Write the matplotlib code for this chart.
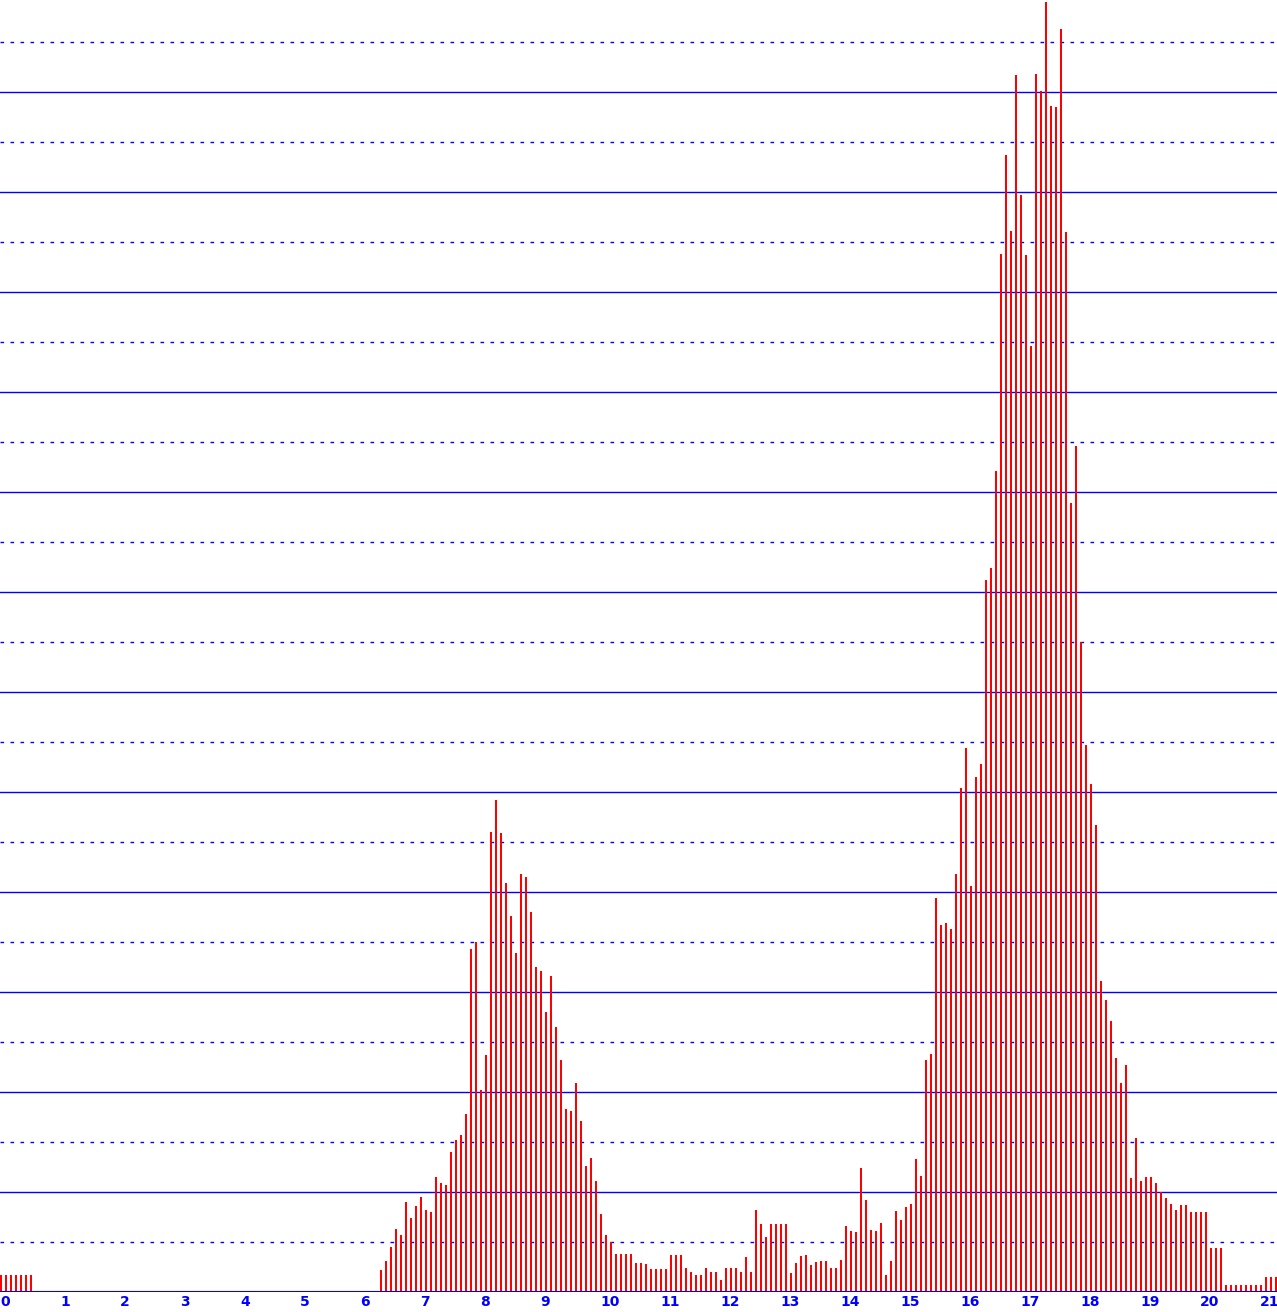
import matplotlib
matplotlib.use("Agg")
import matplotlib.pyplot as plt
import numpy as np

# one bar every 1/12 of a unit, heights
step = 1 / 12
counts_start = [17, 17, 17, 17, 17, 17, 17]
counts_gap = [0] * 69
counts_first_peak = [
    22, 31, 45, 63, 57, 90, 74, 86, 95, 82, 80, 115, 109, 107, 140, 152,
    157, 178, 343, 350, 202, 237, 460, 492, 459, 409, 376, 339, 418, 415,
    380, 325, 321, 280, 316, 265, 232, 183, 181, 209, 171, 126, 134, 111,
    78, 57, 50, 38,
]
counts_valley = [
    38, 38, 38, 29, 29, 28, 23, 23, 23, 23, 37, 37, 37, 24, 20, 17, 17,
    24, 20, 20, 12, 24, 24, 24, 20, 35, 20, 82, 68, 55, 68, 68, 68, 68,
    19, 29, 36, 37, 27, 30, 31, 31, 24, 24, 32, 66, 61, 60, 124, 92, 62,
    61, 69, 17, 31, 81, 72, 85, 88, 133, 116,
]
counts_second_peak = [
    232, 238, 394, 367, 369, 363, 418, 504, 544, 406, 515, 528, 712, 724,
    821, 1038, 1137, 1061, 1217, 1097, 1037, 946, 1218, 1201, 1290, 1186,
    1185, 1263, 1060, 789, 846, 650, 547, 508, 467, 311, 292, 271, 234,
    209, 227, 114, 154, 111, 115, 115, 109, 100, 94, 88, 82, 87, 87, 80,
    80, 80, 80, 44, 44, 44, 7, 7, 7, 7, 7, 7, 7, 7, 15, 15, 15,
]
counts = counts_start + counts_gap + counts_first_peak + counts_valley + counts_second_peak
x = np.arange(len(counts)) * step

W, H = 1277, 1312
plt.rcParams["lines.scale_dashes"] = False
fig = plt.figure(figsize=(W / 100, H / 100), dpi=100)
ax = fig.add_axes([0, 20 / H, 1, 1292 / H])

ax.bar(x, counts, width=2 / 60, align="edge", color="#ff0000", linewidth=0)

for y in range(50, 1292, 50):
    if y % 100 == 0:
        ax.axhline(y, color="#0000ff", lw=1.0, zorder=0)
    else:
        ax.axhline(y, color="#0000ff", lw=1.0, ls=(0, (2.6, 4.6)), zorder=0)
ax.axhline(0, color="#0000ff", lw=1.5, zorder=3)

ax.set_xlim(0, W / 60)
ax.set_ylim(0, 1292)
for s in ax.spines.values():
    s.set_visible(False)
ax.set_yticks([])
ax.set_xticks(range(22))
ax.set_xticklabels([str(i) for i in range(22)], ha="left", color="#0000ff",
                   fontsize=10, fontweight="bold", family="DejaVu Sans")
ax.tick_params(axis="x", length=0, pad=2)

fig.savefig("out.png", dpi=100)
